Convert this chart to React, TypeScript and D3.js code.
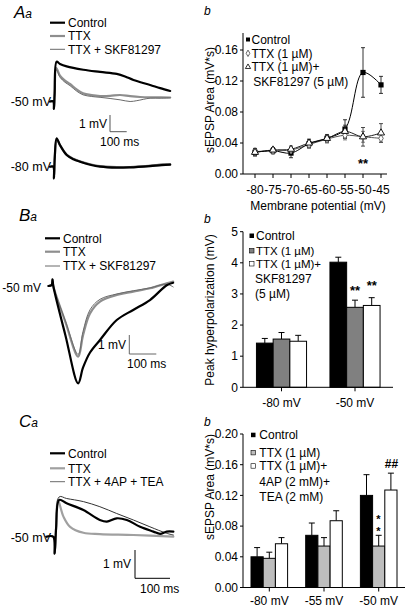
import React from "react";
import * as d3 from "d3";

type Pt = [number, number];

// ---------- Aa : example traces (time ms, mV above holding) ----------
const aaControl50: Pt[] = [[-20, 0], [0, 0], [4, -0.45], [8, 0.5], [20, 2.38], [40, 2.25], [80, 2.1], [180, 1.9], [280, 1.77], [380, 1.65], [430, 1.5], [480, 1.29], [580, 0.99], [640, 0.8], [700, 0.63]];
const aaTTX50: Pt[] = [[-20, 0], [0, 0], [4, -0.45], [8, 0.4], [18, 2.0], [40, 1.55], [70, 1.25], [100, 1.05], [140, 0.72], [178, 0.49], [230, 0.38], [280, 0.33], [340, 0.34], [400, 0.39], [460, 0.32], [520, 0.27], [600, 0.25], [700, 0.24]];
const aaSKF50: Pt[] = [[-20, 0], [0, 0], [4, -0.45], [8, 0.4], [18, 1.9], [40, 1.45], [70, 1.15], [100, 0.95], [140, 0.62], [178, 0.4], [230, 0.3], [280, 0.25], [340, 0.18], [400, 0.1], [460, 0.0], [500, 0.05], [580, 0.2], [640, 0.2], [700, 0.22]];
const aaControl80: Pt[] = [[-20, 0], [0, 0], [4, -0.7], [9, 0.6], [20, 1.7], [40, 1.3], [80, 0.7], [120, 0.45], [160, 0.3], [220, 0.12], [280, 0.0], [380, -0.06], [460, -0.04], [580, 0.04], [650, 0.1], [700, 0.12]];
const aaTTX80: Pt[] = [[-20, 0], [0, 0], [4, -0.7], [9, 0.6], [20, 1.65], [40, 1.28], [80, 0.72], [120, 0.47], [160, 0.32], [220, 0.15], [280, 0.03], [380, -0.03], [460, -0.02], [580, 0.06], [650, 0.12], [700, 0.14]];
const aaSKF80: Pt[] = [[-20, 0], [0, 0], [4, -0.7], [9, 0.6], [20, 1.6], [40, 1.25], [80, 0.75], [120, 0.5], [160, 0.34], [220, 0.16], [280, 0.05], [380, -0.02], [460, 0.0], [580, 0.08], [650, 0.16], [700, 0.16]];

// ---------- Ba ----------
const baControl: Pt[] = [[-18, 0], [-6, 0.05], [-3, 0.35], [0, 0], [45, -2.6], [92, -5.12], [110, -4.3], [136, -3.5], [173, -2.84], [235, -1.79], [296, -1.26], [358, -0.74], [420, 0.04], [444, 0.17]];
const baTTX: Pt[] = [[-18, 0], [-6, 0.05], [-3, 0.35], [0, 0], [45, -1.9], [92, -3.72], [110, -2.6], [136, -1.44], [173, -0.82], [235, -0.47], [296, -0.3], [358, -0.12], [420, 0.14], [444, 0.23]];
const baSKF: Pt[] = [[-18, 0], [-6, 0.05], [-3, 0.35], [0, 0], [45, -1.85], [92, -3.6], [110, -2.4], [136, -1.25], [173, -0.7], [235, -0.42], [296, -0.25], [358, -0.1], [420, 0.1], [444, -0.05]];

// ---------- Ca ----------
const caControl: Pt[] = [[-20, 0], [0, 0], [4, -0.6], [8, 0.3], [17, 1.3], [38, 1.18], [86, 0.94], [133, 0.59], [153, 0.53], [181, 0.65], [210, 0.59], [248, 0.35], [286, 0.18], [305, 0.1], [324, 0.18], [343, 0.18]];
const caTTX: Pt[] = [[-20, 0], [0, 0], [4, -0.6], [8, 0.3], [13, 1.3], [29, 0.71], [48, 0.35], [86, 0.14], [133, 0.09], [229, 0.06], [343, 0.0]];
const caAP: Pt[] = [[-20, 0], [0, 0], [4, -0.6], [8, 0.3], [17, 1.41], [38, 1.35], [86, 1.24], [133, 1.06], [181, 0.82], [229, 0.59], [276, 0.35], [324, 0.12], [343, 0.06]];

// ---------- Ab : sEPSP area vs membrane potential ----------
const abVoltages = [-80, -75, -70, -65, -60, -55, -50, -45];
const abControl = [0.028, 0.030, 0.027, 0.039, 0.046, 0.058, 0.131, 0.115];
const abControlErr = [0.004, 0.004, 0.006, 0.005, 0.004, 0.012, 0.032, 0.011];
const abTTX = [0.029, 0.030, 0.031, 0.038, 0.045, 0.050, 0.048, 0.046];
const abTTXErr = [0.004, 0.003, 0.003, 0.005, 0.005, 0.006, 0.007, 0.005];
const abSKF = [0.028, 0.031, 0.032, 0.040, 0.046, 0.055, 0.048, 0.053];
const abSKFErr = [0.005, 0.003, 0.004, 0.005, 0.005, 0.008, 0.012, 0.012];
const abYTicks = [0, 0.04, 0.08, 0.12, 0.16];

// ---------- Bb : peak hyperpolarization ----------
const bbGroups = ["-80 mV", "-50 mV"];
const bbControl = [1.42, 4.02];
const bbControlErr = [0.15, 0.16];
const bbTTX = [1.55, 2.57];
const bbTTXErr = [0.21, 0.23];
const bbSKF = [1.48, 2.63];
const bbSKFErr = [0.19, 0.25];
const bbYTicks = [0, 1, 2, 3, 4, 5];

// ---------- Cb : sEPSP area ----------
const cbGroups = ["-80 mV", "-55 mV", "-50 mV"];
const cbControl = [0.040, 0.068, 0.120];
const cbControlErr = [0.012, 0.016, 0.027];
const cbTTX = [0.038, 0.054, 0.054];
const cbTTXErr = [0.008, 0.011, 0.014];
const cbAP = [0.057, 0.087, 0.127];
const cbAPErr = [0.008, 0.013, 0.022];
const cbYTicks = [0, 0.04, 0.08, 0.12, 0.16, 0.2];

const FONT = "'Liberation Sans', Arial, Helvetica, sans-serif";
const FS = 12;

function TracePath({ data, x, y, color, width }: any) {
  const line = d3
    .line<Pt>()
    .x((d) => x(d[0]))
    .y((d) => y(d[1]))
    .curve(d3.curveCatmullRom.alpha(0.5));
  return <path d={line(data) || ""} fill="none" stroke={color} strokeWidth={width} strokeLinejoin="round" strokeLinecap="round" />;
}

function PanelLabel({ x, y, big }: { x: number; y: number; big: string }) {
  return (
    <text x={x} y={y} fontFamily={FONT} fontStyle="italic" fill="#000">
      <tspan fontSize={17}>{big}</tspan>
      <tspan fontSize={12}>a</tspan>
    </text>
  );
}

function TraceLegend({ x, ys, labels, styles }: any) {
  return (
    <g>
      {labels.map((l: string, i: number) => (
        <g key={l}>
          <line x1={x} x2={x + 15} y1={ys[i]} y2={ys[i]} stroke={styles[i].color} strokeWidth={styles[i].width} />
          <text x={x + 18} y={ys[i]} dy="0.35em" fontFamily={FONT} fontSize={FS}>
            {l}
          </text>
        </g>
      ))}
    </g>
  );
}

function ScaleBar({ cx, cy, x, y, color = "#000", mvLabelX, msLabelX, msLabelY }: any) {
  const h = y(0) - y(1);
  const w = x(100) - x(0);
  return (
    <g>
      <line x1={cx} x2={cx} y1={cy} y2={cy - h} stroke={color} strokeWidth={1} />
      <line x1={cx} x2={cx + w} y1={cy} y2={cy} stroke={color} strokeWidth={1} />
      <text x={mvLabelX} y={cy - h / 2} dy="0.35em" textAnchor="end" fontFamily={FONT} fontSize={FS}>
        1 mV
      </text>
      <text x={msLabelX} y={msLabelY} dy="0.35em" fontFamily={FONT} fontSize={FS}>
        100 ms
      </text>
    </g>
  );
}

function YAxis({ x, y, ticks, fmt, top }: any) {
  return (
    <g>
      <line x1={x} x2={x} y1={y(0)} y2={top} stroke="#000" />
      {ticks.map((t: number) => (
        <g key={t}>
          <line x1={x - 3} x2={x} y1={y(t)} y2={y(t)} stroke="#000" />
          <text x={x - 5} y={y(t)} dy="0.35em" textAnchor="end" fontFamily={FONT} fontSize={FS}>
            {fmt(t)}
          </text>
        </g>
      ))}
    </g>
  );
}

function ErrBar({ x, y0, y1, cap = 3, color = "#000" }: any) {
  return (
    <g stroke={color} strokeWidth={1}>
      <line x1={x} x2={x} y1={y0} y2={y1} />
      <line x1={x - cap} x2={x + cap} y1={y1} y2={y1} />
    </g>
  );
}

function BarGroupChart({ groups, series, y, cx, barW, axisX, axisRight, labelY }: any) {
  const y0 = y(0);
  return (
    <g>
      {groups.map((g: string, gi: number) => {
        const c = cx(g) as number;
        return (
          <g key={g}>
            {series.map((s: any, si: number) => {
              const left = c - 1.5 * barW + si * barW;
              const v = s.values[gi];
              const e = s.errs[gi];
              return (
                <g key={si}>
                  <ErrBar x={left + barW / 2} y0={y(v)} y1={y(v + e)} cap={3} />
                  <rect x={left} y={y(v)} width={barW} height={y0 - y(v)} fill={s.fill} stroke="#000" strokeWidth={1} />
                </g>
              );
            })}
            <line x1={c} x2={c} y1={y0} y2={y0 + 4} stroke="#000" />
            <text x={c} y={labelY} dy="0.35em" textAnchor="middle" fontFamily={FONT} fontSize={FS}>
              {g}
            </text>
          </g>
        );
      })}
      <line x1={axisX} x2={axisRight} y1={y0} y2={y0} stroke="#000" />
    </g>
  );
}

export default function App() {
  // ---------------- left trace scales ----------------
  const xA = d3.scaleLinear().domain([0, 100]).range([53.3, 70]);
  const yA50 = d3.scaleLinear().domain([0, 1]).range([101.5, 84.8]);
  const yA80 = d3.scaleLinear().domain([0, 1]).range([166.7, 150]);

  const xB = d3.scaleLinear().domain([0, 100]).range([53.3, 80.3]);
  const yB = d3.scaleLinear().domain([0, 1]).range([286, 267]);

  const xC = d3.scaleLinear().domain([0, 100]).range([53.3, 88.3]);
  const yC = d3.scaleLinear().domain([0, 1]).range([536.7, 508.4]);

  const black = { color: "#000", width: 2.2 };
  const grayThick = { color: "#8e8e8e", width: 2.2 };
  const grayThin = { color: "#6a6a6a", width: 1 };
  const lightThick = { color: "#a0a0a0", width: 2.2 };
  const darkThin = { color: "#333", width: 1 };

  // ---------------- Ab ----------------
  const axX = 243;
  const xAb = d3.scaleLinear().domain([-80, -45]).range([255, 381]);
  const yAb = d3.scaleLinear().domain([0, 0.18]).range([174, 34.5]);
  const abLine = (vals: number[]) =>
    d3
      .line<number>()
      .x((_, i) => xAb(abVoltages[i]))
      .y((d) => yAb(d))
      .curve(d3.curveCatmullRom.alpha(0.5))(vals) || "";

  // ---------------- Bb ----------------
  const yBb = d3.scaleLinear().domain([0, 5]).range([387.3, 231.7]);
  const xBb = d3.scalePoint<string>().domain(bbGroups).range([281.5, 355]);

  // ---------------- Cb ----------------
  const yCb = d3.scaleLinear().domain([0, 0.2]).range([587.5, 434]);
  const xCb = d3.scalePoint<string>().domain(cbGroups).range([269.3, 378.7]);

  const triangle = d3.symbol().type(d3.symbolTriangle).size(22)() || "";
  const diamond = d3.symbol().type(d3.symbolDiamond).size(18)() || "";

  return (
    <svg width={407} height={608} style={{ position: "absolute", left: 0, top: 0, background: "#fff" }} fontFamily={FONT}>
      <rect x={0} y={0} width={407} height={608} fill="#fff" />

      {/* ================= Aa ================= */}
      <PanelLabel x={14} y={18} big="A" />
      <TraceLegend x={50} ys={[22.7, 36, 49.3]} labels={["Control", "TTX", "TTX + SKF81297"]} styles={[black, grayThick, grayThin]} />
      <text x={51} y={101.5} dy="0.35em" textAnchor="end" fontSize={12.5}>-50 mV</text>
      <text x={51} y={166.7} dy="0.35em" textAnchor="end" fontSize={12.5}>-80 mV</text>
      <TracePath data={aaTTX50} x={xA} y={yA50} {...grayThick} />
      <TracePath data={aaSKF50} x={xA} y={yA50} {...grayThin} />
      <TracePath data={aaControl50} x={xA} y={yA50} {...black} />
      <TracePath data={aaTTX80} x={xA} y={yA80} {...grayThick} />
      <TracePath data={aaSKF80} x={xA} y={yA80} {...grayThin} />
      <TracePath data={aaControl80} x={xA} y={yA80} {...black} />
      <ScaleBar cx={110} cy={131.7} x={xA} y={yA50} color="#555" mvLabelX={107} msLabelX={100} msLabelY={142} />

      {/* ================= Ba ================= */}
      <PanelLabel x={19} y={221} big="B" />
      <TraceLegend x={45} ys={[238.3, 251.7, 266]} labels={["Control", "TTX", "TTX + SKF81297"]} styles={[black, grayThick, grayThin]} />
      <text x={41} y={288} dy="0.35em" textAnchor="end" fontSize={12}>-50 mV</text>
      <TracePath data={baTTX} x={xB} y={yB} {...grayThick} />
      <TracePath data={baSKF} x={xB} y={yB} {...grayThin} />
      <TracePath data={baControl} x={xB} y={yB} {...black} />
      <ScaleBar cx={129.3} cy={354} x={xB} y={yB} color="#666" mvLabelX={126} msLabelX={127} msLabelY={363.5} />

      {/* ================= Ca ================= */}
      <PanelLabel x={19} y={427} big="C" />
      <TraceLegend x={50} ys={[453.3, 468.3, 481.7]} labels={["Control", "TTX", "TTX + 4AP + TEA"]} styles={[black, lightThick, grayThin]} />
      <text x={51} y={538} dy="0.35em" textAnchor="end" fontSize={12.5}>-50 mV</text>
      <TracePath data={caTTX} x={xC} y={yC} {...lightThick} />
      <TracePath data={caAP} x={xC} y={yC} {...darkThin} />
      <TracePath data={caControl} x={xC} y={yC} {...black} />
      <ScaleBar cx={135} cy={578.3} x={xC} y={yC} mvLabelX={131} msLabelX={140} msLabelY={588.5} />

      {/* ================= Ab ================= */}
      <text x={204} y={15} fontStyle="italic" fontSize={12}>b</text>
      <text transform="translate(214,100) rotate(-90)" textAnchor="middle" fontSize={FS}>sEPSP Area (mV*s)</text>
      <YAxis x={axX} y={yAb} ticks={abYTicks} fmt={(t: number) => t.toFixed(2)} top={33} />
      <line x1={axX} x2={387} y1={174} y2={174} stroke="#000" />
      {abVoltages.map((v) => (
        <g key={v}>
          <line x1={xAb(v)} x2={xAb(v)} y1={174} y2={178} stroke="#000" />
          <text x={xAb(v)} y={190} dy="0.35em" textAnchor="middle" fontSize={FS}>{v}</text>
        </g>
      ))}
      <text x={318} y={205.5} dy="0.35em" textAnchor="middle" fontSize={FS}>Membrane potential (mV)</text>
      {/* error bars */}
      {abVoltages.map((v, i) => (
        <g key={"e" + v}>
          <g stroke="#000" strokeWidth={0.8}>
            <line x1={xAb(v)} x2={xAb(v)} y1={yAb(abControl[i] - abControlErr[i])} y2={yAb(abControl[i] + abControlErr[i])} />
            <line x1={xAb(v) - 2} x2={xAb(v) + 2} y1={yAb(abControl[i] + abControlErr[i])} y2={yAb(abControl[i] + abControlErr[i])} />
            <line x1={xAb(v) - 2} x2={xAb(v) + 2} y1={yAb(abControl[i] - abControlErr[i])} y2={yAb(abControl[i] - abControlErr[i])} />
          </g>
          <g stroke="#666" strokeWidth={0.8}>
            <line x1={xAb(v)} x2={xAb(v)} y1={yAb(abTTX[i] - abTTXErr[i])} y2={yAb(abTTX[i] + abTTXErr[i])} />
            <line x1={xAb(v) - 2} x2={xAb(v) + 2} y1={yAb(abTTX[i] + abTTXErr[i])} y2={yAb(abTTX[i] + abTTXErr[i])} />
            <line x1={xAb(v) - 2} x2={xAb(v) + 2} y1={yAb(abTTX[i] - abTTXErr[i])} y2={yAb(abTTX[i] - abTTXErr[i])} />
          </g>
          <g stroke="#222" strokeWidth={0.8}>
            <line x1={xAb(v)} x2={xAb(v)} y1={yAb(abSKF[i] - abSKFErr[i])} y2={yAb(abSKF[i] + abSKFErr[i])} />
            <line x1={xAb(v) - 2} x2={xAb(v) + 2} y1={yAb(abSKF[i] + abSKFErr[i])} y2={yAb(abSKF[i] + abSKFErr[i])} />
            <line x1={xAb(v) - 2} x2={xAb(v) + 2} y1={yAb(abSKF[i] - abSKFErr[i])} y2={yAb(abSKF[i] - abSKFErr[i])} />
          </g>
        </g>
      ))}
      <path d={abLine(abTTX)} fill="none" stroke="#555" strokeWidth={1} />
      <path d={abLine(abSKF)} fill="none" stroke="#222" strokeWidth={1} />
      <path d={abLine(abControl)} fill="none" stroke="#000" strokeWidth={1} />
      {abVoltages.map((v, i) => (
        <g key={"m" + v}>
          <rect x={xAb(v) - 2.6} y={yAb(abControl[i]) - 2.6} width={5.2} height={5.2} fill="#000" />
          <path d={diamond} transform={`translate(${xAb(v)},${yAb(abTTX[i])})`} fill="#fff" stroke="#666" strokeWidth={1} />
          <path d={triangle} transform={`translate(${xAb(v)},${yAb(abSKF[i])})`} fill="#fff" stroke="#000" strokeWidth={0.9} />
        </g>
      ))}
      <text x={xAb(-50)} y={163} dy="0.35em" textAnchor="middle" fontSize={13} fontWeight="bold">**</text>
      {/* legend */}
      <rect x={246} y={37.5} width={4} height={4} fill="#000" />
      <text x={251.5} y={39.5} dy="0.35em" fontSize={FS}>Control</text>
      <path d={d3.symbol().type(d3.symbolDiamond).size(12)() || ""} transform="translate(248,53.3)" fill="#fff" stroke="#666" />
      <text x={251.5} y={53.3} dy="0.35em" fontSize={FS}>TTX (1 µM)</text>
      <path d={d3.symbol().type(d3.symbolTriangle).size(12)() || ""} transform="translate(248,67)" fill="#fff" stroke="#000" strokeWidth={0.8} />
      <text x={251.5} y={66.7} dy="0.35em" fontSize={FS}>TTX (1 µM)+</text>
      <text x={253.3} y={81.7} dy="0.35em" fontSize={FS}>SKF81297 (5 µM)</text>

      {/* ================= Bb ================= */}
      <text x={204} y={222.5} fontStyle="italic" fontSize={12}>b</text>
      <text transform="translate(214,310) rotate(-90)" textAnchor="middle" fontSize={FS}>Peak hyperpolarization (mV)</text>
      <YAxis x={axX} y={yBb} ticks={bbYTicks} fmt={(t: number) => String(t)} top={231.7} />
      <BarGroupChart
        groups={bbGroups}
        series={[
          { values: bbControl, errs: bbControlErr, fill: "#000" },
          { values: bbTTX, errs: bbTTXErr, fill: "#808080" },
          { values: bbSKF, errs: bbSKFErr, fill: "#fff" },
        ]}
        y={yBb}
        cx={xBb}
        barW={16.7}
        axisX={axX}
        axisRight={393}
        labelY={402.5}
      />
      <text x={355} y={290} dy="0.35em" textAnchor="middle" fontSize={13} fontWeight="bold">**</text>
      <text x={371.7} y={285} dy="0.35em" textAnchor="middle" fontSize={13} fontWeight="bold">**</text>
      <rect x={249.5} y={233.5} width={4.5} height={4.5} fill="#000" />
      <text x={256} y={236} dy="0.35em" fontSize={FS}>Control</text>
      <rect x={249.5} y={248.5} width={4.5} height={4.5} fill="#808080" stroke="#000" strokeWidth={0.6} />
      <text x={256} y={251} dy="0.35em" fontSize={11.5}>TTX (1 µM)</text>
      <rect x={249.5} y={261.5} width={4.5} height={4.5} fill="#fff" stroke="#000" strokeWidth={0.6} />
      <text x={256} y={264} dy="0.35em" fontSize={11.5}>TTX (1 µM)+</text>
      <text x={255} y={278.5} dy="0.35em" fontSize={FS}>SKF81297</text>
      <text x={255} y={293.5} dy="0.35em" fontSize={FS}>(5 µM)</text>

      {/* ================= Cb ================= */}
      <text x={204} y={426} fontStyle="italic" fontSize={12}>b</text>
      <text transform="translate(214,487) rotate(-90)" textAnchor="middle" fontSize={FS}>sEPSP Area (mV*s)</text>
      <YAxis x={axX} y={yCb} ticks={cbYTicks} fmt={(t: number) => t.toFixed(2)} top={434} />
      <BarGroupChart
        groups={cbGroups}
        series={[
          { values: cbControl, errs: cbControlErr, fill: "#000" },
          { values: cbTTX, errs: cbTTXErr, fill: "#bdbdbd" },
          { values: cbAP, errs: cbAPErr, fill: "#fff" },
        ]}
        y={yCb}
        cx={xCb}
        barW={12.2}
        axisX={axX}
        axisRight={405}
        labelY={601}
      />
      <text x={378.5} y={519} dy="0.35em" textAnchor="middle" fontSize={11} fontWeight="bold">*</text>
      <text x={378.5} y={531} dy="0.35em" textAnchor="middle" fontSize={11} fontWeight="bold">*</text>
      <text x={391.5} y={463.5} dy="0.35em" textAnchor="middle" fontSize={12} fontWeight="bold">##</text>
      <rect x={251} y={432.7} width={4.5} height={4.5} fill="#000" />
      <text x={259.3} y={435} dy="0.35em" fontSize={FS}>Control</text>
      <rect x={251} y={450.4} width={4.5} height={4.5} fill="#bdbdbd" stroke="#000" strokeWidth={0.6} />
      <text x={259.3} y={452.7} dy="0.35em" fontSize={FS}>TTX (1 µM)</text>
      <rect x={251} y={463.7} width={4.5} height={4.5} fill="#fff" stroke="#000" strokeWidth={0.6} />
      <text x={259.3} y={466} dy="0.35em" fontSize={FS}>TTX (1 µM)+</text>
      <text x={259.3} y={481.5} dy="0.35em" fontSize={FS}>4AP (2 mM)+</text>
      <text x={259.3} y={497} dy="0.35em" fontSize={FS}>TEA (2 mM)</text>
    </svg>
  );
}
